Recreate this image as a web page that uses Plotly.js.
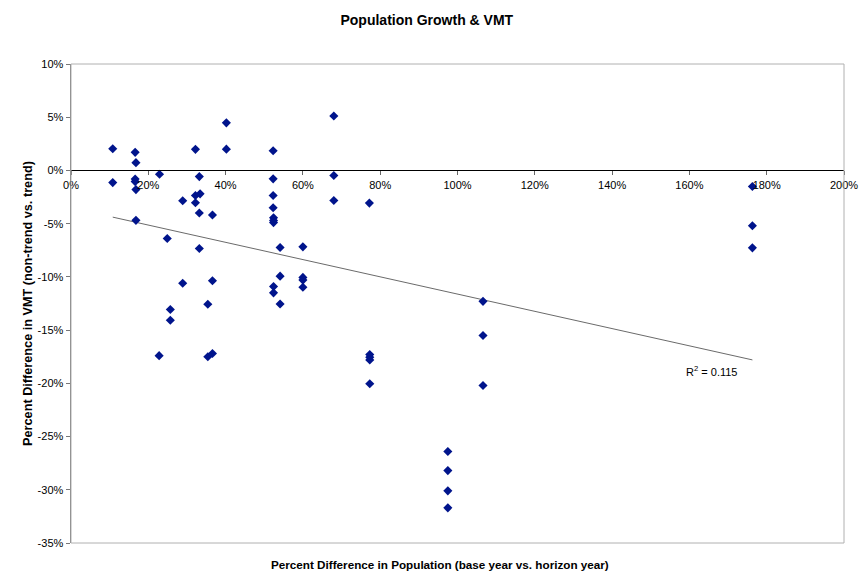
<!DOCTYPE html>
<html><head><meta charset="utf-8">
<script src="https://cdn.plot.ly/plotly-3.0.1.min.js"></script>
<style>body{margin:0;background:#fff}#c{width:864px;height:573px}</style>
</head><body><div id="c"></div>
<script>
// Percent difference in population (base year vs. horizon year), %
const popGrowth = [
  10.8, 10.8, 16.6, 16.8, 16.6, 16.6, 16.8, 16.8, 22.9, 28.9, 32.2, 33.2, 32.2, 33.4, 40.2, 40.2,
  32.2, 33.2, 36.6, 24.9, 33.2, 28.9, 36.6, 35.4, 25.7, 25.7, 22.8, 35.4, 36.6,
  68.0, 52.3, 52.3, 68.0, 52.3, 68.0, 77.2, 52.3, 52.4, 52.4, 52.4,
  54.1, 60.0, 54.1, 60.0, 60.0, 60.0, 52.4, 52.4, 54.1,
  77.3, 77.3, 77.3, 77.3, 106.6, 106.6, 106.6,
  97.5, 97.5, 97.5, 97.5, 176.3, 176.3, 176.3
];
// Percent difference in VMT (non-trend vs. trend), %
const vmtDiff = [
  2.04, -1.14, 1.70, 0.73, -0.8, -1.05, -1.8, -4.69, -0.36, -2.85, 1.98, -0.58, -2.35, -2.2, 4.47, 2.0,
  -3.04, -4.0, -4.19, -6.4, -7.34, -10.6, -10.36, -12.57, -13.07, -14.07, -17.4, -17.5, -17.2,
  5.12, 1.85, -0.79, -0.48, -2.35, -2.82, -3.07, -3.5, -4.44, -4.7, -4.9,
  -7.24, -7.18, -9.93, -10.05, -10.3, -10.98, -10.9, -11.5, -12.54,
  -17.3, -17.55, -17.8, -20.04, -12.3, -15.5, -20.2,
  -26.4, -28.2, -30.1, -31.7, -1.51, -5.2, -7.27
];
const xTickVals = [0,20,40,60,80,100,120,140,160,180,200];
const xTickText = ['0%','20%','40%','60%','80%','100%','120%','140%','160%','180%','200%'];
const yTickVals = [10,5,0,-5,-10,-15,-20,-25,-30,-35];
const yTickText = ['10%','5%','0%','-5%','-10%','-15%','-20%','-25%','-30%','-35%'];
const rSquaredText = 'R<sup>2</sup> = 0.115';

// least-squares trend line computed from the data
const n = popGrowth.length;
let sx=0, sy=0, sxx=0, sxy=0;
for (let i=0;i<n;i++){ sx+=popGrowth[i]; sy+=vmtDiff[i]; sxx+=popGrowth[i]*popGrowth[i]; sxy+=popGrowth[i]*vmtDiff[i]; }
const slope = (n*sxy - sx*sy)/(n*sxx - sx*sx);
const intercept = (sy - slope*sx)/n;
const xmin = Math.min(...popGrowth), xmax = Math.max(...popGrowth);
const trendX = [xmin, xmax];
const trendY = trendX.map(v => intercept + slope*v);

const font = 'Arial, "Liberation Sans", sans-serif';
const data = [
  {x: trendX, y: trendY, mode: 'lines', type: 'scatter', line: {color: '#444', width: 0.8}, hoverinfo: 'skip'},
  {x: popGrowth, y: vmtDiff, mode: 'markers', type: 'scatter',
   marker: {symbol: 'diamond', size: 7, color: '#00148C'}}
];
const layout = {
  width: 864, height: 573,
  margin: {l: 71, r: 20, t: 64, b: 30},
  paper_bgcolor: '#fff', plot_bgcolor: '#fff',
  showlegend: false,
  font: {family: font, size: 11, color: '#000'},
  title: {text: '<b>Population Growth & VMT</b>', x: 0.494, xref: 'container', y: 0.965, yref: 'container', yanchor: 'middle',
          font: {family: font, size: 14, color: '#000'}},
  xaxis: {range: [0, 200], tickvals: xTickVals, ticktext: xTickText, showgrid: false, zeroline: false,
          anchor: 'free', position: 35/45, side: 'bottom', showline: true, linecolor: '#000', linewidth: 1,
          ticks: 'outside', ticklen: 4, tickcolor: '#666', tickfont: {size: 11}},
  yaxis: {range: [-35, 10], tickvals: yTickVals, ticktext: yTickText, showgrid: false, zeroline: false,
          showline: true, linecolor: '#777', linewidth: 1.5, ticks: 'outside', ticklen: 4, tickcolor: '#777',
          tickfont: {size: 11}},
  shapes: [{type: 'rect', xref: 'paper', yref: 'paper', x0: 0, x1: 1, y0: 0, y1: 1, line: {color: '#b0b0b0', width: 1}}],
  annotations: [
    {text: rSquaredText, xref: 'x', yref: 'y', x: 165.6, y: -18.8, showarrow: false, font: {size: 11}},
    {text: '<b>Percent Difference in Population (base year vs. horizon year)</b>', xref: 'paper', yref: 'paper',
     x: 0.477, y: -0.045, yanchor: 'middle', showarrow: false, font: {size: 11.7}},
    {text: '<b>Percent Difference in VMT (non-trend vs. trend)</b>', xref: 'paper', yref: 'paper',
     x: -0.068, y: 0.5, textangle: -90, showarrow: false, font: {size: 12.7}}
  ]
};
Plotly.newPlot('c', data, layout, {displayModeBar: false, staticPlot: true});
</script></body></html>
